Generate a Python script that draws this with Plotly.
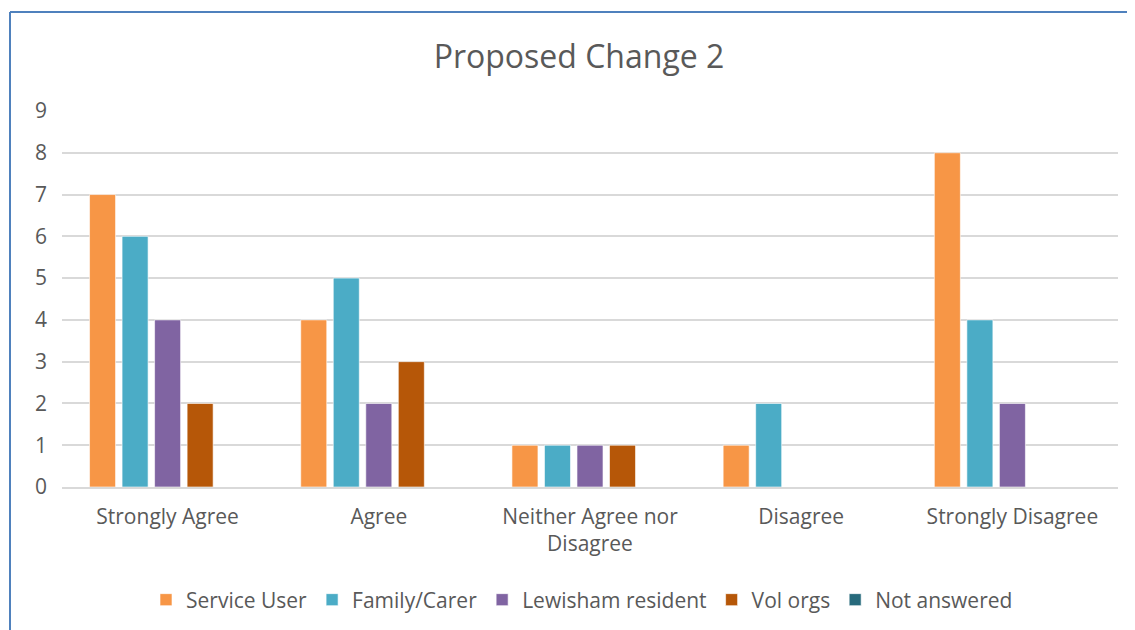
import plotly.graph_objects as go

categories = ["Strongly Agree", "Agree", "Neither Agree nor<br>Disagree", "Disagree", "Strongly Disagree"]
service_user = [7, 4, 1, 1, 8]
family_carer = [6, 5, 1, 2, 4]
lewisham_resident = [4, 2, 1, 0, 2]
vol_orgs = [2, 3, 1, 0, 0]
not_answered = [0, 0, 0, 0, 0]

series = [
    ("Service User", service_user, "#F79646"),
    ("Family/Carer", family_carer, "#4BACC6"),
    ("Lewisham resident", lewisham_resident, "#8064A2"),
    ("Vol orgs", vol_orgs, "#B65708"),
    ("Not answered", not_answered, "#276A7C"),
]

fig = go.Figure()
for name, vals, col in series:
    fig.add_trace(go.Bar(
        name=name, x=categories, y=vals,
        marker=dict(color=col, line=dict(color="rgba(255,255,255,0.6)", width=1)),
    ))

# page has an 8px body margin; figure coordinates are offset accordingly
OFF = 8
W, H = 1135 - OFF, 630 - OFF
L, R, T, B = 62 - OFF, 17, 111 - OFF, 143
pw, ph = W - L - R, H - T - B

bx0 = (10 - OFF - L) / pw
bx1 = (W + 40 - L) / pw
by_top = (H - B - (12 - OFF)) / ph
by_bot = (B - H - 40) / ph
border = dict(color="#4F81BD", width=2)

fig.update_layout(
    width=W, height=H,
    margin=dict(l=L, r=R, t=T, b=B, autoexpand=False),
    paper_bgcolor="white", plot_bgcolor="white",
    barmode="group", bargap=0.23, bargroupgap=0.2,
    font=dict(family="Open Sans, sans-serif", color="#595959", size=21),
    title=dict(text="Proposed Change 2", x=(579 - OFF) / W, xanchor="center", yref="container",
               y=1 - (57 - OFF) / H, yanchor="middle",
               font=dict(size=32, color="#595959")),
    legend=dict(orientation="h", x=(582 - OFF) / W, xanchor="center", xref="container", yref="container",
                y=1 - (600 - OFF) / H, yanchor="middle",
                font=dict(size=21, color="#595959"), itemwidth=30, traceorder="normal"),
    showlegend=True,
    yaxis=dict(range=[0, 9], dtick=1, showgrid=True, gridcolor="#D9D9D9", gridwidth=1.5,
               zeroline=False, showline=False, ticks="", tickfont=dict(size=21, color="#595959"),
               ticklabelstandoff=14),
    xaxis=dict(showgrid=False, showline=True, linecolor="#D9D9D9", linewidth=1.5, ticks="",
               tickfont=dict(size=21, color="#595959"), ticklabelstandoff=10),
    shapes=[
        dict(type="line", xref="paper", yref="paper", x0=bx0, x1=bx1, y0=by_top, y1=by_top,
             line=border, layer="below"),
        dict(type="line", xref="paper", yref="paper", x0=bx0, x1=bx0, y0=by_top, y1=by_bot,
             line=border, layer="below"),
    ],
)

fig.write_html("out.html")
